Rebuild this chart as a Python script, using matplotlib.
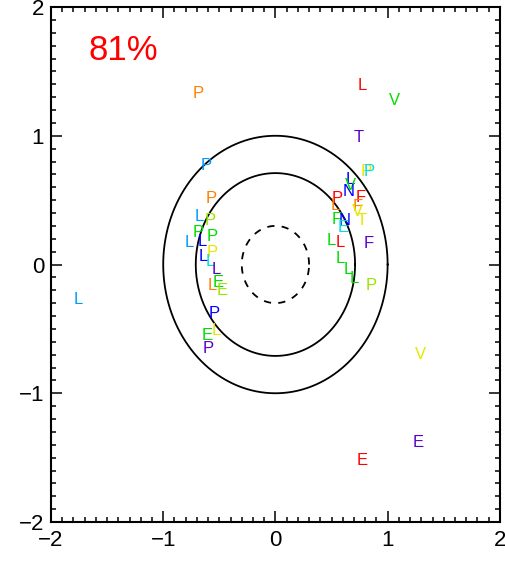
import numpy as np
import matplotlib
matplotlib.use('Agg')
import matplotlib.pyplot as plt
from matplotlib.ticker import MultipleLocator

plt.rcParams['font.family'] = ['Liberation Sans', 'DejaVu Sans']

# colour palette (IDL rainbow-ish)
RED = '#ff0000'
ORG = '#ff8000'
YEL = '#e6e600'
YGR = '#99e600'
GRN = '#00dd00'
CYN = '#00dddd'
LBL = '#0099ff'
BLU = '#0000ff'
PUR = '#5a00c8'

# letters: label, x, y, colour
letters = ['P', 'L', 'V', 'T', 'L', 'V', 'E', 'E',
           'P', 'P', 'L', 'P', 'P', 'P', 'L', 'L', 'P', 'L', 'L', 'L',
           'E', 'L', 'E', 'P', 'L', 'E', 'P',
           'P', 'P', 'L', 'V', 'N', 'F', 'P', 'F', 'L', 'V', 'T', 'F',
           'N', 'E', 'F', 'L', 'L', 'L', 'L', 'L', 'P']
xs = [-0.69, 0.77, 1.06, 0.74, -1.76, 1.29, 1.27, 0.77,
      -0.62, -0.57, -0.68, -0.58, -0.69, -0.56, -0.77, -0.65, -0.56, -0.64, -0.58, -0.53,
      -0.51, -0.56, -0.47, -0.55, -0.53, -0.61, -0.60,
      0.81, 0.84, 0.67, 0.67, 0.65, 0.76, 0.55, 0.73, 0.53, 0.73, 0.77, 0.55,
      0.62, 0.60, 0.83, 0.50, 0.58, 0.58, 0.65, 0.70, 0.85]
ys = [1.33, 1.39, 1.27, 0.99, -0.27, -0.70, -1.38, -1.52,
      0.77, 0.51, 0.37, 0.34, 0.25, 0.22, 0.17, 0.18, 0.09, 0.06, 0.02, -0.04,
      -0.14, -0.16, -0.20, -0.38, -0.51, -0.55, -0.65,
      0.72, 0.72, 0.66, 0.61, 0.57, 0.52, 0.51, 0.45, 0.46, 0.41, 0.34, 0.35,
      0.34, 0.29, 0.16, 0.19, 0.17, 0.05, -0.04, -0.11, -0.16]
cols = [ORG, RED, GRN, PUR, LBL, YEL, PUR, RED,
        LBL, ORG, LBL, YGR, GRN, GRN, LBL, BLU, YEL, BLU, CYN, PUR,
        GRN, ORG, YGR, BLU, YEL, GRN, PUR,
        YEL, CYN, BLU, GRN, BLU, RED, RED, ORG, ORG, YEL, YEL, GRN,
        BLU, CYN, PUR, GRN, RED, GRN, GRN, GRN, YGR]

radii = [1.0, 0.71, 0.3]
styles = ['-', '-', (0, (4, 4))]

fig = plt.figure(figsize=(5.06, 5.61), dpi=100)
ax = fig.add_axes([0.1008, 0.0695, 0.887, 0.918])

t = np.linspace(0, 2 * np.pi, 300)
for r, ls in zip(radii, styles):
    ax.plot(r * np.cos(t), r * np.sin(t), color='black', lw=1.3, linestyle=ls)

for s, x, y, c in zip(letters, xs, ys, cols):
    ax.text(x, y, s, color=c, fontsize=12, ha='center', va='center')

ax.text(-1.67, 1.66, '81%', color='red', fontsize=25, ha='left', va='center')

ax.set_xlim(-2, 2)
ax.set_ylim(-2, 2)
ax.xaxis.set_major_locator(MultipleLocator(1))
ax.yaxis.set_major_locator(MultipleLocator(1))
ax.xaxis.set_minor_locator(MultipleLocator(0.1))
ax.yaxis.set_minor_locator(MultipleLocator(0.1))
ax.tick_params(which='both', direction='in', top=True, right=True, width=1.1, labelsize=16)
ax.tick_params(which='major', length=8)
ax.tick_params(which='minor', length=3.5)
ax.tick_params(axis='x', pad=6)
ax.tick_params(axis='y', pad=5)
for sp in ax.spines.values():
    sp.set_linewidth(1.5)

fig.savefig('out.png', dpi=100)
